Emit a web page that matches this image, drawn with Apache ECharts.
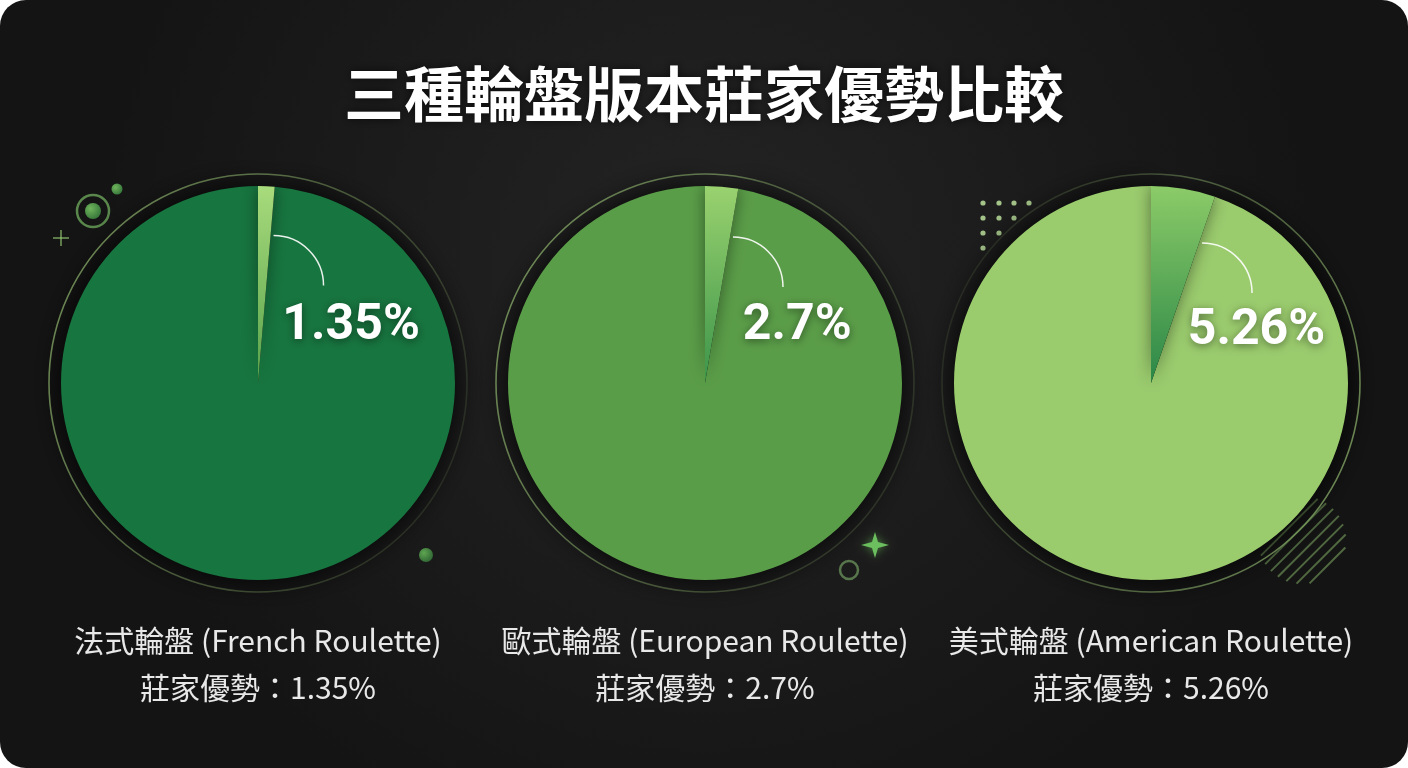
<!DOCTYPE html>
<html>
<head>
<meta charset="utf-8">
<script src="https://cdn.jsdelivr.net/npm/echarts@6/dist/echarts.min.js"></script>
<style>
html,body{margin:0;padding:0;background:#ffffff;}
#c{width:1408px;height:768px;}
</style>
</head>
<body>
<div id="c"></div>
<script>
// ---------- data ----------
const chartTitle = '三種輪盤版本莊家優勢比較';
const wheelNames = ['法式輪盤 (French Roulette)', '歐式輪盤 (European Roulette)', '美式輪盤 (American Roulette)'];
const houseEdge = [1.35, 2.7, 5.26];
const edgeLabels = ['1.35%', '2.7%', '5.26%'];
const captionPrefix = '莊家優勢：';

// ---------- styles ----------
const centersX = [258, 705, 1151];
const centerY = 383;
const R = 197;
const mainColors = ['#17753f', '#5a9d48', '#9acb6d'];
const sliceTop = ['#a8db7c', '#9ad26f', '#8ccb68'];
const sliceBottom = ['#58a24c', '#3b944a', '#2a8747'];
const labelPos = [[93, -54], [92, -54], [105, -49]];
const ringColorsFrom = [[0.75, 0.12], [0.75, 0.15], [0.1, 0.75]];

const chart = echarts.init(document.getElementById('c'), null, {renderer: 'canvas'});
const W = 1408, H = 768;
const FONT_CJK = '"Noto Sans CJK TC", "Noto Sans", sans-serif';

const series = houseEdge.map((e, i) => {
  const theta = e / 100 * Math.PI * 2;
  const mid = theta / 2;
  const defX = (R / 2) * Math.sin(mid), defY = -(R / 2) * Math.cos(mid);
  return {
    type: 'pie',
    center: [centersX[i], centerY],
    radius: [0, R],
    startAngle: 90,
    clockwise: false,
    silent: true,
    animation: false,
    z: 3,
    label: {show: false},
    labelLine: {show: false},
    emphasis: {disabled: true},
    data: [
      {
        name: 'rest', value: +(100 - e).toFixed(2),
        itemStyle: {color: mainColors[i], shadowBlur: 30, shadowColor: 'rgba(0,0,0,0.9)'}
      },
      {
        name: wheelNames[i], value: e,
        itemStyle: {
          color: new echarts.graphic.LinearGradient(0, 0, 0, 1, [
            {offset: 0, color: sliceTop[i]}, {offset: 1, color: sliceBottom[i]}
          ]),
          shadowBlur: 16, shadowColor: 'rgba(0,0,0,0.45)'
        },
        label: {
          show: true, position: 'inside',
          formatter: () => edgeLabels[i],
          offset: [labelPos[i][0] - defX, labelPos[i][1] - defY],
          color: '#ffffff', fontSize: 50, fontWeight: 'bold',
          fontFamily: 'Roboto, sans-serif',
          textShadowBlur: 8, textShadowColor: 'rgba(0,0,0,0.45)', textShadowOffsetY: 2
        }
      }
    ]
  };
});

// ---------- graphic decorations ----------
const g = [];
g.push({
  type: 'rect', z: -10, silent: true,
  shape: {x: 0, y: 0, width: W, height: H, r: 26},
  style: {fill: new echarts.graphic.RadialGradient(0.5, 0.35, 0.8, [
    {offset: 0, color: '#242424'}, {offset: 1, color: '#141414'}
  ])}
});
houseEdge.forEach((e, i) => {
  const a = ringColorsFrom[i];
  g.push({
    type: 'circle', z: 1, silent: true,
    shape: {cx: centersX[i], cy: centerY, r: 209},
    style: {fill: null, lineWidth: 1.6,
      stroke: new echarts.graphic.LinearGradient(0, 0.3, 1, 0.7, [
        {offset: 0, color: 'rgba(170,215,130,' + a[0] + ')'},
        {offset: 1, color: 'rgba(170,215,130,' + a[1] + ')'}
      ])}
  });
  const theta = e / 100 * Math.PI * 2;
  const d = 148;
  const sx = centersX[i] + d * Math.sin(theta) + 3;
  const sy = centerY - d * Math.cos(theta);
  g.push({
    type: 'arc', z: 10, silent: true,
    shape: {cx: sx, cy: sy + 50, r: 50, startAngle: -Math.PI / 2, endAngle: 0, clockwise: true},
    style: {stroke: 'rgba(255,255,255,0.9)', lineWidth: 1.5, fill: null}
  });
  g.push({
    type: 'text', z: 10, silent: true,
    style: {x: centersX[i], y: 641, text: wheelNames[i], fill: '#e8e8e8',
      font: '30px ' + FONT_CJK, textAlign: 'center', textVerticalAlign: 'middle'}
  });
  g.push({
    type: 'text', z: 10, silent: true,
    style: {x: centersX[i], y: 688, text: captionPrefix + edgeLabels[i], fill: '#e8e8e8',
      font: '30px ' + FONT_CJK, textAlign: 'center', textVerticalAlign: 'middle'}
  });
});

const deco = 'rgba(150,205,115,0.75)';
const ballFill = () => new echarts.graphic.RadialGradient(0.35, 0.35, 0.8, [
  {offset: 0, color: '#6fb45c'}, {offset: 1, color: '#2f6f36'}]);
g.push({type: 'circle', z: 1, silent: true, shape: {cx: 93, cy: 211, r: 16},
  style: {fill: null, stroke: 'rgba(120,185,100,0.7)', lineWidth: 2.5}});
g.push({type: 'circle', z: 1, silent: true, shape: {cx: 93, cy: 211, r: 8}, style: {fill: ballFill()}});
g.push({type: 'circle', z: 1, silent: true, shape: {cx: 117, cy: 189, r: 5.5}, style: {fill: ballFill()}});
g.push({type: 'line', z: 1, silent: true, shape: {x1: 53, y1: 238, x2: 69, y2: 238},
  style: {stroke: deco, lineWidth: 1.5}});
g.push({type: 'line', z: 1, silent: true, shape: {x1: 61, y1: 230, x2: 61, y2: 246},
  style: {stroke: deco, lineWidth: 1.5}});
g.push({type: 'circle', z: 1, silent: true, shape: {cx: 426, cy: 555, r: 7},
  style: {fill: new echarts.graphic.RadialGradient(0.35, 0.35, 0.8, [
    {offset: 0, color: '#5fa552'}, {offset: 1, color: '#2a5f30'}])}});
g.push({type: 'polygon', z: 1, silent: true,
  shape: {points: [[875, 532], [878, 542], [889, 545], [878, 548], [875, 558], [872, 548], [861, 545], [872, 542]]},
  style: {fill: '#6cbf5e', shadowBlur: 8, shadowColor: 'rgba(110,200,90,0.6)'}});
g.push({type: 'circle', z: 1, silent: true, shape: {cx: 849, cy: 570, r: 9},
  style: {fill: null, stroke: 'rgba(130,180,110,0.6)', lineWidth: 2.5}});
const dotX = [983, 999, 1014, 1029], dotY = [203, 218, 233, 248];
dotY.forEach((y, r) => {
  for (let c = 0; c < 4 - r; c++) {
    g.push({type: 'circle', z: 1, silent: true, shape: {cx: dotX[c], cy: y, r: 2.6},
      style: {fill: 'rgba(180,215,150,0.9)'}});
  }
});
const scx = 1302, scy = 540, sr = 44;
for (let k = -5; k <= 5; k++) {
  const off = k * 9;
  const half = Math.sqrt(Math.max(0, sr * sr - off * off));
  const px = scx + off / Math.SQRT2, py = scy + off / Math.SQRT2;
  g.push({type: 'line', z: 1, silent: true,
    shape: {x1: px - half / Math.SQRT2, y1: py + half / Math.SQRT2, x2: px + half / Math.SQRT2, y2: py - half / Math.SQRT2},
    style: {stroke: 'rgba(140,190,110,0.5)', lineWidth: 2}});
}

chart.setOption({
  backgroundColor: 'transparent',
  animation: false,
  title: {
    text: chartTitle, left: 'center', top: 58,
    textStyle: {color: '#ffffff', fontSize: 60, fontWeight: 'bold', fontFamily: FONT_CJK, lineHeight: 62,
      textShadowBlur: 10, textShadowColor: 'rgba(0,0,0,0.6)'}
  },
  graphic: g,
  series: series
});
</script>
</body>
</html>
